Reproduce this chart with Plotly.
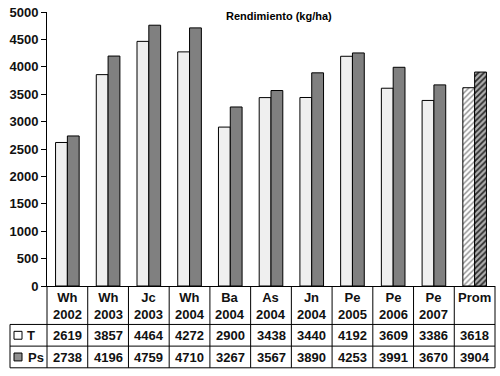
import plotly.graph_objects as go

crops = ["Wh", "Wh", "Jc", "Wh", "Ba", "As", "Jn", "Pe", "Pe", "Pe", "Prom"]
years = ["2002", "2003", "2003", "2004", "2004", "2004", "2004", "2005", "2006", "2007", ""]
t_vals = [2619, 3857, 4464, 4272, 2900, 3438, 3440, 4192, 3609, 3386, 3618]
ps_vals = [2738, 4196, 4759, 4710, 3267, 3567, 3890, 4253, 3991, 3670, 3904]
series_names = ["T", "Ps"]
title_text = "Rendimiento (kg/ha)"

categories = [f"{c} {y}".strip() for c, y in zip(crops, years)]
n = len(categories)

FONT = "Liberation Sans, Arial, sans-serif"
W, H = 500, 376
ML, MR, MT, MB = 47, 5, 8, 90
PW = W - ML - MR
PH = H - MT - MB


def py(p):  # pixel y -> paper y
    return (H - MB - p) / PH


def px(p):  # pixel x -> paper x
    return (p - ML) / PW


fig = go.Figure()

shapes_t = [""] * (n - 1) + ["/"]
shapes_ps = [""] * (n - 1) + ["/"]

fig.add_trace(go.Bar(
    x=categories, y=t_vals, name=series_names[0],
    marker=dict(color="#efefef", line=dict(color="black", width=1),
                pattern=dict(shape=shapes_t, fgcolor="#8a8a8a", bgcolor="white",
                             size=4, solidity=0.35, fillmode="replace")),
))
fig.add_trace(go.Bar(
    x=categories, y=ps_vals, name=series_names[1],
    marker=dict(color="#808080", line=dict(color="black", width=1),
                pattern=dict(shape=shapes_ps, fgcolor="#2a2a2a", bgcolor="#b0b0b0",
                             size=4, solidity=0.45, fillmode="replace")),
))

annotations = []
shapes = []

# title
annotations.append(dict(text="<b>" + title_text + "</b>", x=px(279), y=py(12.5),
                        xref="paper", yref="paper", showarrow=False,
                        font=dict(family=FONT, size=11, color="black"),
                        xanchor="center", yanchor="middle"))

# table: category labels and values
for cat, c, yv, tv, pv in zip(categories, crops, years, t_vals, ps_vals):
    lab = f"<b>{c}</b>" + (f"<br><b>{yv}</b>" if yv else "")
    annotations.append(dict(text=lab, x=cat, xref="x", y=py(288), yref="paper",
                            showarrow=False, yanchor="top", xanchor="center",
                            font=dict(family=FONT, size=13, color="#111")))
    annotations.append(dict(text=f"<b>{tv}</b>", x=cat, xref="x", y=py(336.5), yref="paper",
                            showarrow=False, yanchor="middle", xanchor="center",
                            font=dict(family=FONT, size=13, color="#111")))
    annotations.append(dict(text=f"<b>{pv}</b>", x=cat, xref="x", y=py(358.5), yref="paper",
                            showarrow=False, yanchor="middle", xanchor="center",
                            font=dict(family=FONT, size=13, color="#111")))

# row headers
annotations.append(dict(text="<b>" + series_names[0] + "</b>", x=px(25), y=py(336.5),
                        xref="paper", yref="paper", showarrow=False,
                        xanchor="left", yanchor="middle",
                        font=dict(family=FONT, size=13, color="#111")))
annotations.append(dict(text="<b>" + series_names[1] + "</b>", x=px(26), y=py(358.5),
                        xref="paper", yref="paper", showarrow=False,
                        xanchor="left", yanchor="middle",
                        font=dict(family=FONT, size=13, color="#111")))

line = dict(color="black", width=1)
# horizontal table lines
for yy in (325, 347, 369):
    shapes.append(dict(type="line", xref="paper", yref="paper",
                       x0=px(10), x1=1, y0=py(yy), y1=py(yy), line=line))
# vertical column lines
for k in range(n + 1):
    shapes.append(dict(type="line", xref="paper", yref="paper",
                       x0=k / n, x1=k / n, y0=py(286), y1=py(369), line=line))
shapes.append(dict(type="line", xref="paper", yref="paper",
                   x0=px(10), x1=px(10), y0=py(325), y1=py(369), line=line))
# legend keys
shapes.append(dict(type="rect", xref="paper", yref="paper",
                   x0=px(14), x1=px(22), y0=py(332), y1=py(340),
                   line=dict(color="black", width=1), fillcolor="white"))
shapes.append(dict(type="rect", xref="paper", yref="paper",
                   x0=px(14), x1=px(22), y0=py(354), y1=py(362),
                   line=dict(color="black", width=1), fillcolor="#909090"))

fig.update_layout(
    width=W, height=H,
    margin=dict(l=ML, r=MR, t=MT, b=MB),
    paper_bgcolor="white", plot_bgcolor="white",
    showlegend=False,
    barmode="group", bargap=0.42, bargroupgap=0,
    annotations=annotations, shapes=shapes,
    font=dict(family=FONT, size=13, color="black"),
)
fig.update_yaxes(range=[0, 5000], dtick=500, showgrid=False, showline=True,
                 linecolor="black", linewidth=1, ticks="outside", ticklen=5,
                 tickcolor="black", zeroline=False,
                 tickfont=dict(family=FONT, size=13, color="#111"),
                 tickprefix="<b>", ticksuffix="</b>")
fig.update_xaxes(type="category", range=[-0.5, n - 0.5], showticklabels=False,
                 showline=True, linecolor="black", linewidth=1, showgrid=False, ticks="")

fig.write_html("out.html")
